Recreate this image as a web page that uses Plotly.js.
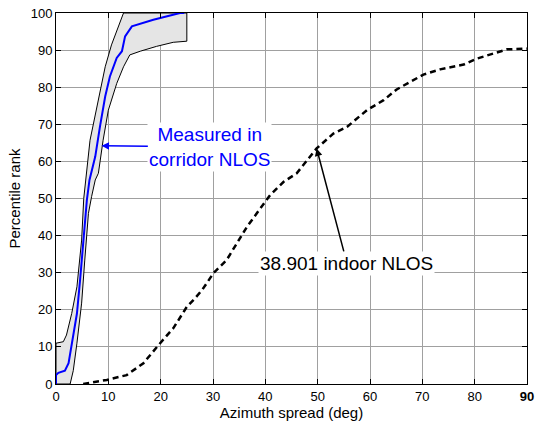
<!DOCTYPE html>
<html>
<head>
<meta charset="utf-8">
<script src="https://cdn.plot.ly/plotly-3.0.1.min.js"></script>
<style>html,body{margin:0;padding:0;background:#fff;}#chart{width:535px;height:426px;}</style>
</head>
<body>
<div id="chart"></div>
<script>
// Shaded band (measured corridor NLOS spread)
const bandUpperX = [0, 0, 1.4, 2, 3, 4, 4.9, 5.3, 6.5, 8.1, 9.4, 10.6, 11.9, 12.9, 25];
const bandUpperY = [0, 11, 11.4, 13.2, 19, 26.2, 38.8, 50, 65.7, 76.5, 85.5, 91.4, 96.4, 100, 100];
const bandLowerX = [2.7, 3.3, 4, 4.9, 5.5, 6.2, 6.8, 7.5, 8.1, 9, 10, 11.6, 12.9, 14.1, 16.1, 19.2, 22.4, 25];
const bandLowerY = [0, 3.6, 11, 21.8, 33.4, 46, 50.5, 55, 56.8, 65.7, 73.8, 81, 85.5, 88.7, 89.7, 91, 92.1, 92.4];

// Measured in corridor NLOS (blue)
const measuredX = [0, 0, 0.45, 1.7, 2.4, 3, 4, 4.6, 5.2, 5.9, 6.4, 7.5, 8.4, 9.4, 10.3, 11.6, 12.6, 13.2, 14.5, 18.6, 23.7, 24.5];
const measuredY = [0, 2.4, 3, 3.6, 5.6, 11, 19, 28, 38.8, 49.6, 55, 61.3, 69.4, 77.5, 82.9, 87.9, 89.7, 93.7, 96.4, 98.2, 100, 100];

// 38.901 indoor NLOS (black dashed)
const indoorX = [5.2, 9.7, 13.5, 16.7, 19.9, 22.4, 25, 26.5, 28, 30.1, 32.6, 36.5, 40.9, 43.5, 46, 49.8, 53, 55.6, 59.4, 62.6, 65.1, 70.2, 73.4, 77.9, 80.4, 86.2, 90];
const indoorY = [0, 1.1, 2.4, 5.6, 11, 15, 20.8, 23, 25.5, 29.9, 33.4, 42.4, 50.9, 54.5, 56.8, 63.5, 67.5, 69.3, 73.8, 76.5, 79.4, 83.4, 84.8, 86.1, 87.7, 90.2, 90.4];

const xTickVals = [0, 10, 20, 30, 40, 50, 60, 70, 80, 90];
const xTickText = ['0', '10', '20', '30', '40', '50', '60', '70', '80', '<b>90</b>'];
const yTickVals = [0, 10, 20, 30, 40, 50, 60, 70, 80, 90, 100];

const bandX = bandUpperX.concat(bandLowerX.slice().reverse()).concat([0]);
const bandY = bandUpperY.concat(bandLowerY.slice().reverse()).concat([0]);

const traces = [
  {x: bandX, y: bandY, type: 'scatter', mode: 'lines', fill: 'toself',
   fillcolor: '#e5e5e5', line: {color: '#000', width: 1}, hoverinfo: 'skip', showlegend: false},
  {x: measuredX, y: measuredY, type: 'scatter', mode: 'lines',
   line: {color: '#0000ff', width: 2}, showlegend: false},
  {x: indoorX, y: indoorY, type: 'scatter', mode: 'lines',
   line: {color: '#000', width: 2.5, dash: '6px,4px'}, showlegend: false}
];

const axisCommon = {
  showline: true, linecolor: '#000', linewidth: 1, mirror: 'allticks',
  ticks: 'inside', ticklen: 5, tickcolor: '#000',
  showgrid: true, gridcolor: '#a0a0a0', gridwidth: 1, zeroline: false,
  tickfont: {family: 'Liberation Sans, Arial, sans-serif', size: 13, color: '#000'}
};

const layout = {
  width: 535, height: 426,
  margin: {l: 56, r: 8, t: 13, b: 42},
  paper_bgcolor: '#fff', plot_bgcolor: '#fff',
  xaxis: Object.assign({}, axisCommon, {
    range: [0, 90], tickmode: 'array', tickvals: xTickVals, ticktext: xTickText,
    title: {text: 'Azimuth spread (deg)', standoff: 4,
            font: {family: 'Liberation Sans, Arial, sans-serif', size: 15, color: '#000'}}
  }),
  yaxis: Object.assign({}, axisCommon, {
    range: [0, 100], tickmode: 'array', tickvals: yTickVals,
    title: {text: 'Percentile rank', standoff: 6,
            font: {family: 'Liberation Sans, Arial, sans-serif', size: 15, color: '#000'}}
  }),
  annotations: [
    {x: 8.7, y: 64.2, ax: 29.4, ay: 63.9, xref: 'x', yref: 'y', axref: 'x', ayref: 'y',
     text: 'Measured in<br>corridor NLOS', showarrow: true, arrowhead: 2, arrowsize: 1,
     arrowwidth: 1.5, arrowcolor: '#0000ff', bgcolor: '#fff', borderpad: 1,
     font: {family: 'Liberation Sans, Arial, sans-serif', size: 19, color: '#0000ff'}},
    {x: 49.8, y: 63.5, ax: 55.6, ay: 32.5, xref: 'x', yref: 'y', axref: 'x', ayref: 'y',
     text: '38.901 indoor NLOS', showarrow: true, arrowhead: 2, arrowsize: 1,
     arrowwidth: 1.5, arrowcolor: '#000', bgcolor: '#fff', borderpad: 1,
     font: {family: 'Liberation Sans, Arial, sans-serif', size: 19, color: '#000'}}
  ]
};

Plotly.newPlot('chart', traces, layout, {displayModeBar: false, staticPlot: true});
</script>
</body>
</html>
